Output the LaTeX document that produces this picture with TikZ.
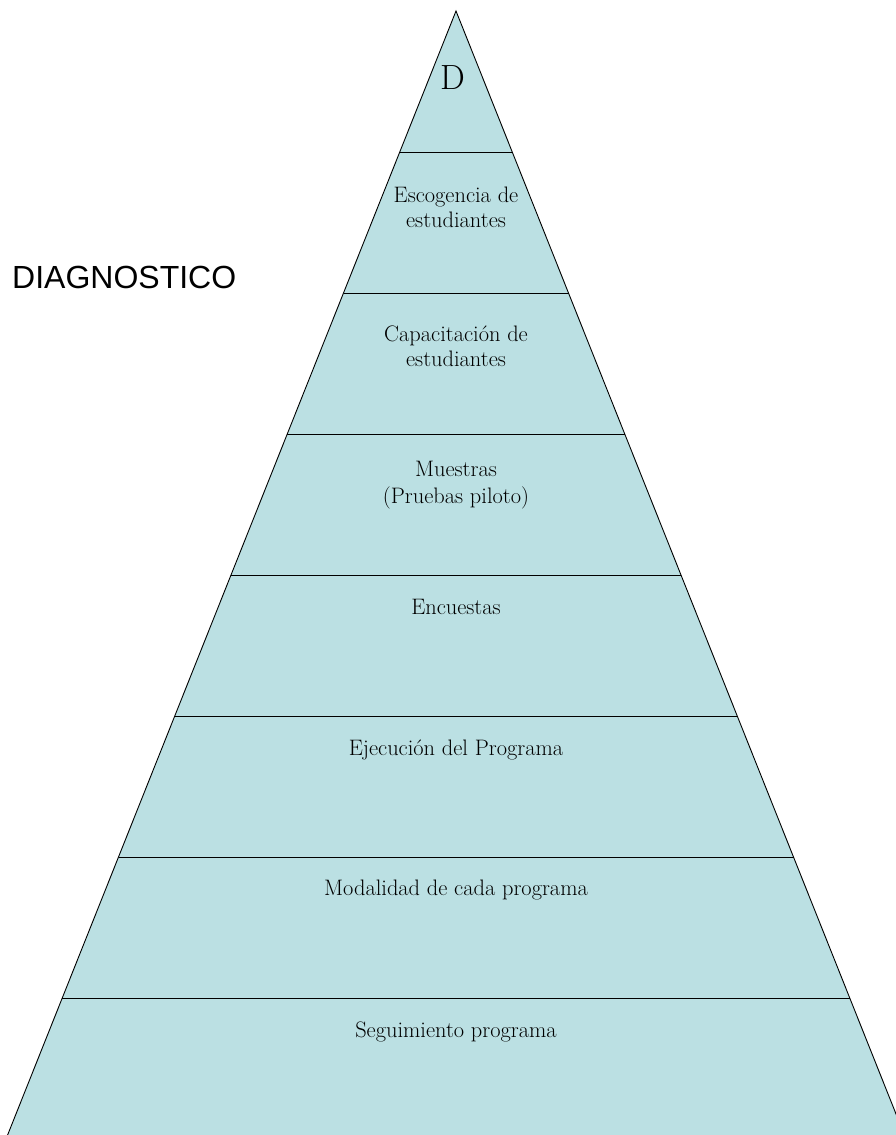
\documentclass[tikz,border=0pt]{standalone}
\usepackage{fontspec}
\newfontfamily\arialfont{Liberation Sans}
\usetikzlibrary{calc}
\definecolor{pyrfill}{HTML}{BBE0E3}
\tikzset{
  lbl/.style={anchor=base, inner sep=0pt, font=\fontsize{22.4}{25}\selectfont, align=center},
  sep/.style={draw=black, line width=0.9pt},
}
\begin{document}
\begin{tikzpicture}[x=1pt,y=-1pt]
\useasboundingbox (0,0) rectangle (896,1135);
\clip (0,0) rectangle (896,1135);
\coordinate (apex) at (456,11);
\coordinate (bl) at (6,1139);
\coordinate (br) at (906,1139);
\fill[pyrfill] (apex) -- (bl) -- (br) -- cycle;
\draw[line width=0.9pt] (bl) -- (apex) -- (br);
\foreach \yy [count=\i] in {152,293,434,575,716,857,998}{
  \pgfmathsetmacro{\tt}{(\yy-11)/1128}
  \coordinate (l\i) at ($(apex)!\tt!(bl)$);
  \coordinate (r\i) at ($(apex)!\tt!(br)$);
  \draw[sep] (l\i) -- (r\i);
}
\node[anchor=base, inner sep=0pt, font=\fontsize{35}{35}\selectfont] (d) at (453,89) {D};
\node[lbl] (esc) at (456,227) {Escogencia de\\estudiantes};
\node[lbl] (cap) at (456,366) {Capacitación de\\estudiantes};
\node[lbl, font=\fontsize{22.4}{27}\selectfont] (mue) at (456,503) {Muestras\\(Pruebas piloto)};
\node[lbl] (enc) at (456,614) {Encuestas};
\node[lbl] (eje) at (456,755) {Ejecución del Programa};
\node[lbl] (mod) at (456,895) {Modalidad de cada programa};
\node[lbl] (seg) at (456,1037) {Seguimiento programa};
\node[anchor=base west, inner sep=0pt, font=\arialfont\fontsize{32}{32}\selectfont] (diag) at (12,288) {DIAGNOSTICO};
\end{tikzpicture}
\end{document}
